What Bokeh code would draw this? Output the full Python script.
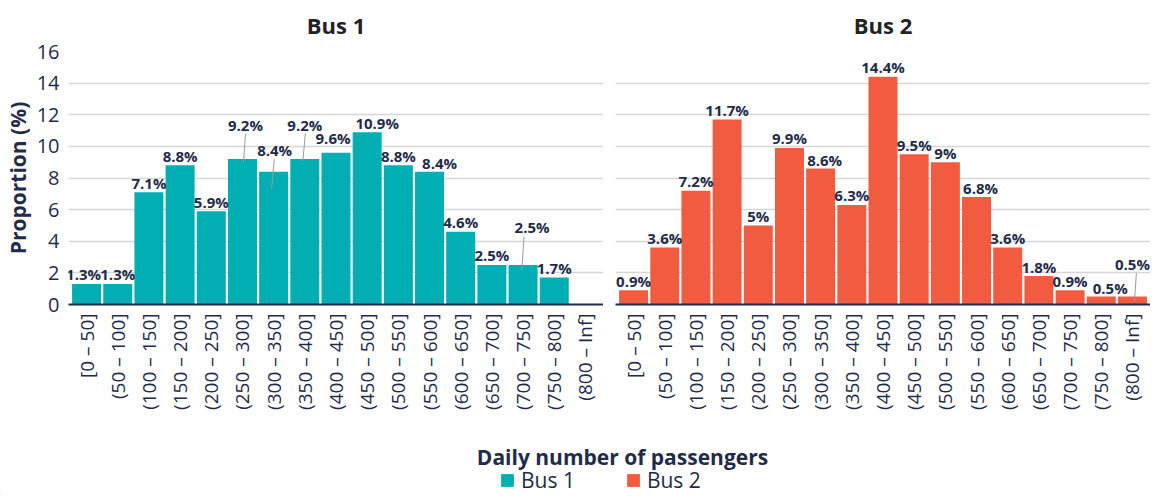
import math
from bokeh.plotting import figure
from bokeh.models import Range1d, FixedTicker, Legend, LegendItem
from bokeh.layouts import row, column
from bokeh.embed import file_html
from bokeh.resources import INLINE
from bokeh.core.properties import value

# ---------------- data ----------------
categories = ["[0 – 50]", "(50 – 100]", "(100 – 150]", "(150 – 200]", "(200 – 250]",
              "(250 – 300]", "(300 – 350]", "(350 – 400]", "(400 – 450]", "(450 – 500]",
              "(500 – 550]", "(550 – 600]", "(600 – 650]", "(650 – 700]", "(700 – 750]",
              "(750 – 800]", "(800 – Inf]"]
bus1 = [1.3, 1.3, 7.1, 8.8, 5.9, 9.2, 8.4, 9.2, 9.6, 10.9, 8.8, 8.4, 4.6, 2.5, 2.5, 1.7, None]
bus2 = [0.9, 3.6, 7.2, 11.7, 5.0, 9.9, 8.6, 6.3, 14.4, 9.5, 9.0, 6.8, 3.6, 1.8, 0.9, 0.5, 0.5]
y_ticks = [0, 2, 4, 6, 8, 10, 12, 14, 16]
panel_titles = ["Bus 1", "Bus 2"]
x_title = "Daily number of passengers"
y_title = "Proportion (%)"

# ---------------- style ----------------
FONT = "Open Sans"
TEAL = "#00AEB3"
RED = "#F15B40"
NAVY = "#1F2B4A"
GRID = "#D6D6D6"
FRAME_W, FRAME_H = 535, 253
X0, X1 = -0.58, 16.58
PXX = FRAME_W / (X1 - X0)
PXY = FRAME_H / 16.0
DEFAULT_UP = 9.5
# label repel nudges (px): index -> (dx, up)
nudges = [
    {0: (-3, 9.5), 5: (3, 34), 6: (1, 21.5), 7: (0, 34.5), 8: (-3, 15), 9: (10, 9), 11: (10, 8.5), 14: (9, 37.5)},
    {6: (4, 9), 11: (4, 8.5), 15: (9, 9), 16: (0, 32.5)},
]
# leader lines: index -> (start dx px, end dx px, depth below bar top px)
leaders = [
    {5: (3, 1, 3.5), 6: (0.6, -2, 17), 7: (0.6, -2, 2), 14: (1, -1.3, 5.5)},
    {16: (4, 2, 5)},
]


def make_panel(i, values, color, y_range=None):
    left = i == 0
    p = figure(output_backend="svg", toolbar_location=None,
               frame_width=FRAME_W, frame_height=FRAME_H,
               x_range=Range1d(X0, X1),
               y_range=y_range if y_range is not None else Range1d(0, 16),
               min_border_left=62 if left else 12, min_border_right=0,
               min_border_top=43, min_border_bottom=106,
               outline_line_color=None, background_fill_color="white",
               border_fill_color="white")
    xs = [k for k, v in enumerate(values) if v is not None]
    vs = [v for v in values if v is not None]
    p.vbar(x=xs, top=vs, width=0.93, fill_color=color, line_color=None)

    # labels
    lx, ly, lt = [], [], []
    for k, v in zip(xs, vs):
        dx, up = nudges[i].get(k, (0, DEFAULT_UP))
        lx.append(k + dx / PXX)
        ly.append(v + up / PXY)
        lt.append(f"{v:g}%")
    p.text(x=lx, y=ly, text=lt, text_align="center", text_baseline="middle",
           text_font=value(FONT), text_font_style="bold", text_font_size="15px",
           text_color=NAVY)

    # leader lines
    sx0, sy0, sx1, sy1 = [], [], [], []
    for k, (sdx, edx, depth) in leaders[i].items():
        v = values[k]
        _, up = nudges[i][k]
        sx0.append(k + sdx / PXX)
        sy0.append(v + (up - 9) / PXY)
        sx1.append(k + edx / PXX)
        sy1.append(v - depth / PXY)
    p.segment(x0=sx0, y0=sy0, x1=sx1, y1=sy1, line_color="#9A9A9A", line_width=1)

    # title
    p.title.text = panel_titles[i]
    p.title.align = "center"
    p.title.vertical_align = "top"
    p.title.text_font = FONT
    p.title.text_font_size = "22px"
    p.title.text_font_style = "bold"
    p.title.text_color = "#222222"
    p.title.standoff = 19

    # x axis
    xa = p.xaxis[0]
    xa.ticker = FixedTicker(ticks=list(range(len(categories))))
    xa.major_label_overrides = {k: c for k, c in enumerate(categories)}
    xa.major_label_orientation = math.pi / 2
    xa.major_label_text_font = FONT
    xa.major_label_text_font_size = "19px"
    xa.major_label_text_color = NAVY
    xa.major_label_standoff = 9
    xa.major_tick_out = 0
    xa.major_tick_in = 0
    xa.minor_tick_out = 0
    xa.minor_tick_in = 0
    xa.axis_line_color = NAVY
    xa.axis_line_width = 2
    xa.major_tick_line_color = None
    xa.minor_tick_line_color = None
    p.xgrid.grid_line_color = None

    # y axis
    ya = p.yaxis[0]
    ya.ticker = FixedTicker(ticks=y_ticks)
    ya.axis_line_color = None
    ya.major_tick_line_color = None
    ya.minor_tick_line_color = None
    ya.major_tick_out = 0
    ya.major_tick_in = 0
    ya.minor_tick_out = 0
    ya.minor_tick_in = 0
    ya.major_label_text_font = FONT
    ya.major_label_text_font_size = "20px"
    ya.major_label_text_color = NAVY
    ya.major_label_standoff = 9
    if left:
        ya.axis_label = y_title
        ya.axis_label_text_font = FONT
        ya.axis_label_text_font_size = "21px"
        ya.axis_label_text_font_style = "bold"
        ya.axis_label_text_color = NAVY
        ya.axis_label_standoff = 2
    else:
        ya.visible = False
    p.ygrid.ticker = FixedTicker(ticks=y_ticks)
    p.ygrid.grid_line_color = GRID
    p.ygrid.grid_line_width = 1.3
    return p


p1 = make_panel(0, bus1, TEAL)
p2 = make_panel(1, bus2, RED, y_range=p1.y_range)

FOOT_H = 82
footer = figure(output_backend="svg", toolbar_location=None, width=1144, height=FOOT_H,
                x_range=Range1d(0, 1144), y_range=Range1d(0, FOOT_H),
                x_axis_type=None, y_axis_type=None, min_border=0,
                outline_line_color=None)
footer.text(x=[622], y=[38], text=[x_title], text_align="center", text_baseline="middle",
            text_font=value(FONT), text_font_style="bold", text_font_size="21px",
            text_color=NAVY)
# legend proxies, placed outside the visible range
r1 = footer.vbar(x=[-1000], top=[1], width=1, fill_color=TEAL, line_color=None)
r2 = footer.vbar(x=[-1000], top=[1], width=1, fill_color=RED, line_color=None)
legend = Legend(items=[LegendItem(label=panel_titles[0], renderers=[r1]),
                       LegendItem(label=panel_titles[1], renderers=[r2])],
                orientation="horizontal", location=(499, 0),
                glyph_width=16, glyph_height=16, label_standoff=6, spacing=50,
                padding=0, margin=0, border_line_color=None, background_fill_alpha=0,
                label_text_font=FONT, label_text_font_size="21px",
                label_text_color=NAVY, label_height=16)
footer.add_layout(legend)

layout = column(row(p1, p2), footer)
open("out.html", "w").write(file_html(layout, INLINE))
